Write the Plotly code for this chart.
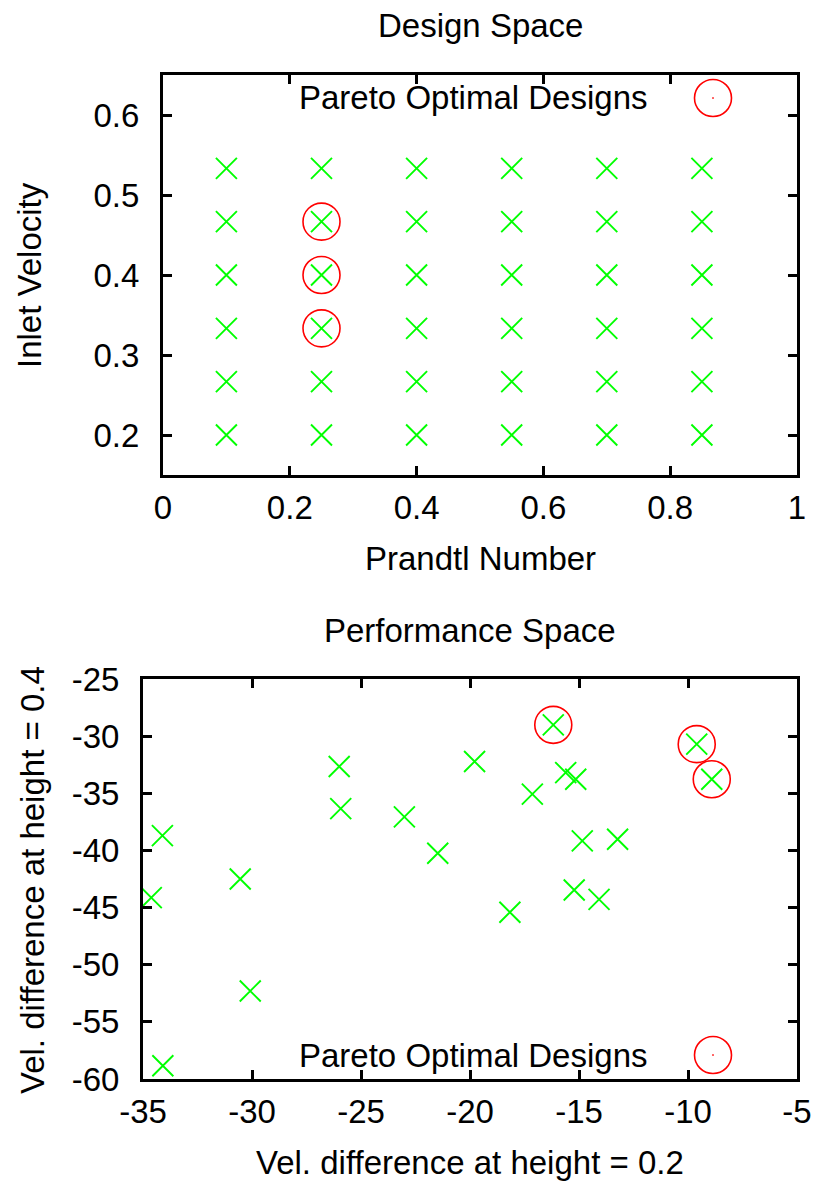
import plotly.graph_objects as go

# ---------------- data ----------------
prandtl_levels = [0.1, 0.25, 0.4, 0.55, 0.7, 0.85]
velocity_levels = [0.2, 0.2667, 0.3333, 0.4, 0.4667, 0.5333]

design_x = [p for p in prandtl_levels for v in velocity_levels]
design_y = [v for p in prandtl_levels for v in velocity_levels]

pareto_design_x = [0.25, 0.25, 0.25]
pareto_design_y = [0.3333, 0.4, 0.4667]

perf_x = [-34.09, -34.62, -34.11, -30.54, -30.08, -26.0, -25.93, -23.01, -21.48,
          -19.79, -18.17, -17.14, -16.18, -15.61, -15.15, -14.85, -13.23, -15.22,
          -14.08, -9.60, -8.91]
perf_y = [-58.84, -44.13, -38.7, -42.5, -52.3, -32.66, -36.34, -37.07, -40.25,
          -32.22, -45.41, -35.08, -29.01, -33.19, -33.77, -39.17, -39.02, -43.46,
          -44.28, -30.70, -33.77]

pareto_perf_x = [-16.18, -9.60, -8.91]
pareto_perf_y = [-29.01, -30.70, -33.77]

top_xticks = [0, 0.2, 0.4, 0.6, 0.8, 1]
top_xlabels = ["0", "0.2", "0.4", "0.6", "0.8", "1"]
top_yticks = [0.2, 0.3, 0.4, 0.5, 0.6]
top_ylabels = ["0.2", "0.3", "0.4", "0.5", "0.6"]
bot_xticks = [-35, -30, -25, -20, -15, -10, -5]
bot_xlabels = ["-35", "-30", "-25", "-20", "-15", "-10", "-5"]
bot_yticks = [-60, -55, -50, -45, -40, -35, -30, -25]
bot_ylabels = ["-60", "-55", "-50", "-45", "-40", "-35", "-30", "-25"]

legend_label = "Pareto Optimal Designs"

# ---------------- styling ----------------
W, H = 814, 1186
FONT = "Liberation Sans, Arial, Helvetica, sans-serif"
FS = 33
GREEN = "#00ff00"
RED = "#ff0000"

def px_x(p):
    return p / W

def px_y(p):
    return 1 - p / H

fig = go.Figure()

cross = dict(symbol="x-thin-open", size=21, color=GREEN,
             line=dict(color=GREEN, width=1.9))
ring = dict(symbol="circle-open", size=37, color=RED,
            line=dict(color=RED, width=1.6))

fig.add_trace(go.Scatter(x=design_x, y=design_y, mode="markers", marker=cross,
                         xaxis="x", yaxis="y", showlegend=False))
fig.add_trace(go.Scatter(x=pareto_design_x, y=pareto_design_y, mode="markers",
                         marker=ring, xaxis="x", yaxis="y", showlegend=False))
fig.add_trace(go.Scatter(x=perf_x, y=perf_y, mode="markers", marker=cross,
                         xaxis="x2", yaxis="y2", showlegend=False))
fig.add_trace(go.Scatter(x=pareto_perf_x, y=pareto_perf_y, mode="markers",
                         marker=ring, xaxis="x2", yaxis="y2", showlegend=False))

axis_common = dict(
    showline=True, linecolor="black", linewidth=3, mirror="ticks",
    ticks="inside", ticklen=9, tickwidth=2.5, tickcolor="black",
    showgrid=False, zeroline=False, automargin=False,
    ticklabeloverflow="allow",
    tickfont=dict(family=FONT, size=FS, color="black"),
)

top_l, top_r, top_t, top_b = 163, 797, 75, 475
bot_l, bot_r, bot_t, bot_b = 143, 797, 679, 1079

fig.update_layout(
    template="none",
    width=W, height=H, autosize=False,
    margin=dict(l=0, r=0, t=0, b=0, pad=0),
    paper_bgcolor="white", plot_bgcolor="white",
    font=dict(family=FONT, size=FS, color="black"),
    xaxis=dict(domain=[px_x(top_l), px_x(top_r)], range=[0, 1],
               tickvals=top_xticks, ticktext=top_xlabels, anchor="y",
               ticklabelstandoff=1, **axis_common),
    yaxis=dict(domain=[px_y(top_b), px_y(top_t)], range=[0.15, 0.65],
               tickvals=top_yticks, ticktext=top_ylabels, anchor="x",
               ticklabelstandoff=14, **axis_common),
    xaxis2=dict(domain=[px_x(bot_l), px_x(bot_r)], range=[-35, -5],
                tickvals=bot_xticks, ticktext=bot_xlabels, anchor="y2",
                ticklabelstandoff=1, **axis_common),
    yaxis2=dict(domain=[px_y(bot_b), px_y(bot_t)], range=[-60, -25],
                tickvals=bot_yticks, ticktext=bot_ylabels, anchor="x2",
                ticklabelstandoff=14, **axis_common),
)

def text(t, x, y, xanchor="center", angle=0):
    fig.add_annotation(text=t, x=px_x(x), y=px_y(y), xref="paper", yref="paper",
                       xanchor=xanchor, yanchor="middle", showarrow=False,
                       textangle=angle, font=dict(family=FONT, size=FS, color="black"))

text("Design Space", 480, 26)
text("Prandtl Number", 480, 558)
text("Inlet Velocity", 29, 275, angle=-90)
text("Performance Space", 470, 630)
text("Vel. difference at height = 0.2", 470, 1162)
text("Vel. difference at height = 0.4", 32, 880, angle=-90)

# legend entries (gnuplot style: label then sample)
for cy in (98, 1055):
    text(legend_label, 649, cy, xanchor="right")
    r = 18.5
    fig.add_shape(type="circle", xref="paper", yref="paper",
                  x0=px_x(713 - r), x1=px_x(713 + r), y0=px_y(cy + r), y1=px_y(cy - r),
                  line=dict(color=RED, width=1.6))
    fig.add_shape(type="circle", xref="paper", yref="paper",
                  x0=px_x(712.5), x1=px_x(713.5), y0=px_y(cy + 0.5), y1=px_y(cy - 0.5),
                  line=dict(color=RED, width=0.8), fillcolor=RED)

fig.write_html(
    "out.html",
    config={"displayModeBar": False},
    post_script="document.body.style.margin='0';document.body.style.overflow='hidden';",
)
